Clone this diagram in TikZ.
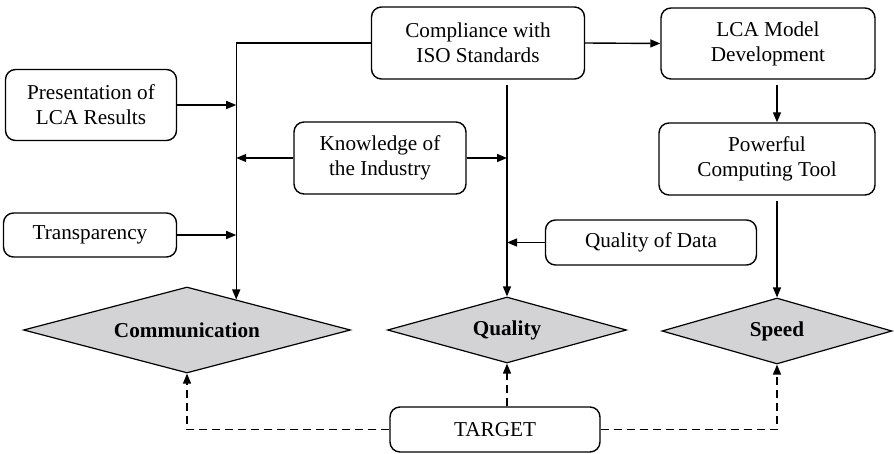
\documentclass[tikz,border=0pt]{standalone}
\usepackage{fontspec}
\setmainfont{Liberation Serif}
\usetikzlibrary{arrows.meta,positioning,calc,shapes.geometric}
\definecolor{goalgray}{HTML}{D3D3D5}

\begin{document}
\begin{tikzpicture}[x=0.5pt,y=-0.5pt,
  box/.style={draw,line width=0.7pt,rounded corners=5pt,align=center,inner sep=2pt,
    font=\fontsize{10.6}{12.5}\selectfont},
  goal/.style={diamond,draw,line width=0.6pt,fill=goalgray,inner sep=0pt,
    font=\bfseries\fontsize{10.6}{12.5}\selectfont},
  arr/.style={-{Triangle[length=5pt,width=4pt]},line width=0.7pt},
  tgt/.style={arr,dash pattern=on 4pt off 2.5pt}]
\useasboundingbox (0,0) rectangle (894,454);
\node[box,minimum width=85.5pt,minimum height=35.5pt] (pres) at (91,105) {Presentation of\\LCA Results};
\node[box,minimum width=86.5pt,minimum height=22pt] (transp) at (90,235) {Transparency};
\node[box,minimum width=106.5pt,minimum height=36pt] (iso) at (478,43) {Compliance with\\ISO Standards};
\node[box,minimum width=86pt,minimum height=36pt] (know) at (380,158) {Knowledge of\\the Industry};
\node[box,minimum width=107pt,minimum height=35.5pt] (lca) at (768,43.5) {LCA Model\\Development};
\node[box,minimum width=108pt,minimum height=36pt] (tool) at (767,159) {Powerful\\Computing Tool};
\node[box,minimum width=105.5pt,minimum height=22.5pt] (qdata) at (651,242.5) {Quality of Data};
\node[box,minimum width=105pt,minimum height=22.5pt] (target) at (495,429.5) {TARGET};
\node[goal,shape aspect=3.8,minimum width=163.5pt,minimum height=43pt] (comm) at (187,330) {Communication};
\node[goal,shape aspect=3.6,minimum width=119.5pt,minimum height=33pt] (qual) at (507,330) {Quality};
\node[goal,shape aspect=3.5,minimum width=115pt,minimum height=33pt] (speed) at (777,331) {Speed};
\coordinate (cj) at ($(comm.north)!0.3!(comm.east)$);
\draw[arr] (iso.west) -| (cj);
\draw[arr] (pres.east) -- (pres.east -| cj);
\draw[arr] (transp.east) -- (transp.east -| cj);
\draw[arr] (know.west) -- (know.west -| cj);
\draw[arr] (know.east) -- (know.east -| qual);
\draw[arr,shorten <=2.5pt] (iso.south -| qual) -- (qual.north);
\draw[arr] (qdata.west) -- (qdata.west -| qual);
\draw[arr] (iso.east) -- (lca.west);
\draw[arr,shorten <=2.5pt] (lca.south -| speed) -- (tool.north -| speed);
\draw[arr,shorten <=2.5pt] (tool.south -| speed) -- (speed.north);
\draw[tgt] (target.west) -| (comm.south);
\draw[tgt] (target.north -| qual) -- (qual.south);
\draw[tgt] (target.east) -| (speed.south);
\end{tikzpicture}
\end{document}
